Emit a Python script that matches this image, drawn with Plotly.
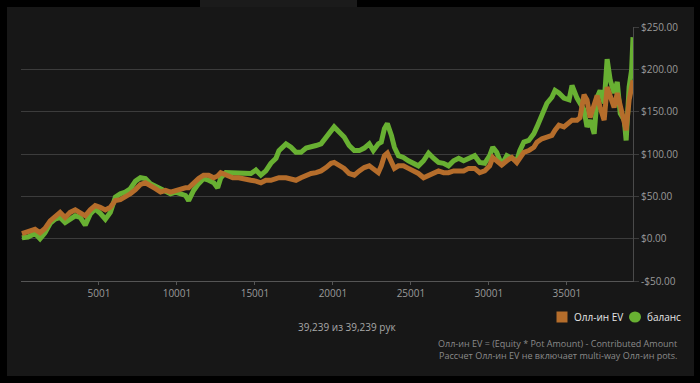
import plotly.graph_objects as go

# Hand numbers (x) and series values ($)
hands = [60, 450, 900, 1220, 1540, 1870, 2190, 2510, 2830, 3150, 3480, 3800, 4120, 4440, 4760,
         5080, 5410, 5730, 6050, 6370, 6690, 7010, 7340, 7660, 7980, 8300, 8620, 8950, 9270,
         9590, 9910, 10230, 10550, 10750, 11070, 11390, 11710, 12030, 12360, 12610, 12810,
         13130, 13580, 13960, 14420, 14740, 15060, 15380, 15700, 16020, 16350, 16540, 16990,
         17310, 17630, 17950, 18280, 18600, 18920, 19240, 19560, 19880, 20080, 20400, 20720,
         21040, 21370, 21690, 22010, 22330, 22590, 22910, 23100, 23300, 23490, 23750, 23940,
         24200, 24520, 24840, 25160, 25480, 25810, 26130, 26450, 26770, 27090, 27410, 27740,
         28060, 28380, 28700, 29090, 29410, 29730, 30050, 30250, 30500, 30820, 31150, 31470,
         31790, 31980, 32240, 32560, 32880, 33080, 33400, 33720, 34040, 34240, 34490, 34810,
         35140, 35330, 35650, 35840, 36100, 36290, 36490, 36750, 36940, 37130, 37390, 37580,
         37780, 38030, 38230, 38420, 38680, 38800, 38990, 39150, 39239]

allin_ev = [6, 8, 11, 7, 12, 21, 27, 31, 25, 31, 34, 31, 27, 34, 39,
            37, 34, 37, 45, 46, 49, 53, 58, 64, 66, 63, 59, 55, 57,
            55, 57, 59, 60, 60, 66, 71, 75, 75, 72, 74, 78,
            75, 72, 72, 71, 69, 68, 66, 69, 69, 71, 72, 72,
            71, 69, 72, 75, 77, 78, 80, 84, 89, 90, 86, 83,
            77, 75, 80, 84, 86, 83, 78, 86, 98, 101, 92, 83,
            86, 86, 83, 80, 77, 72, 75, 78, 80, 78, 78, 80,
            80, 80, 83, 83, 78, 80, 86, 96, 92, 87, 92, 96,
            90, 95, 102, 104, 108, 114, 118, 120, 122, 128, 134, 132,
            136, 140, 140, 143, 170, 164, 143, 160, 169, 155, 140, 179,
            167, 155, 172, 155, 132, 128, 164, 179, 187]

balance = [1, 2, 6, 0, 7, 18, 23, 25, 19, 23, 27, 25, 16, 29, 35,
           30, 23, 31, 49, 53, 55, 59, 68, 72, 71, 65, 62, 59, 55,
           53, 55, 53, 51, 45, 57, 65, 71, 69, 66, 60, 72,
           78, 78, 77, 77, 77, 81, 75, 80, 89, 95, 104, 112,
           108, 102, 102, 107, 108, 110, 112, 120, 128, 132, 126, 120,
           110, 104, 104, 107, 112, 104, 112, 114, 130, 136, 122, 108,
           98, 96, 92, 89, 86, 92, 101, 95, 90, 89, 86, 92,
           95, 92, 95, 98, 90, 89, 98, 108, 102, 87, 98, 95,
           92, 104, 114, 116, 124, 132, 148, 160, 167, 175, 172, 166,
           164, 181, 166, 161, 152, 132, 140, 124, 167, 175, 160, 212,
           187, 172, 185, 148, 140, 116, 179, 199, 238]

x_ticks = [5001, 10001, 15001, 20001, 25001, 30001, 35001]
x_labels = ["5001", "10001", "15001", "20001", "25001", "30001", "35001"]
y_ticks = [-50, 0, 50, 100, 150, 200, 250]
y_labels = ["-$50.00", "$0.00", "$50.00", "$100.00", "$150.00", "$200.00", "$250.00"]

series_names = ["Олл-ин EV", "баланс"]

GREEN = "#68b032"
BROWN = "#b56d2b"

fig = go.Figure()
fig.add_trace(go.Scatter(x=hands, y=balance, mode="lines", name=series_names[1],
                         line=dict(color=GREEN, width=5), showlegend=False))
fig.add_trace(go.Scatter(x=hands, y=allin_ev, mode="lines", name=series_names[0],
                         line=dict(color=BROWN, width=5), showlegend=False))

W, H = 700, 383
L, R, T, B = 21, 67, 27, 102
pw, ph = W - L - R, H - T - B


def px(x):
    return (x - L) / pw


def py(y):
    return (H - B - y) / ph


shapes = [
    dict(type="rect", xref="paper", yref="paper", x0=px(7), x1=px(694), y0=py(376), y1=py(7),
         fillcolor="#171717", line=dict(width=0), layer="below"),
    dict(type="rect", xref="paper", yref="paper", x0=px(200), x1=px(357), y0=py(7), y1=py(0),
         fillcolor="#1b1b1b", line=dict(width=0), layer="below"),
    # legend icons
    dict(type="rect", xref="paper", yref="paper", x0=px(556.5), x1=px(567.5), y0=py(322.5), y1=py(311.5),
         fillcolor=BROWN, line=dict(width=0), layer="above"),
    dict(type="circle", xref="paper", yref="paper", x0=px(629), x1=px(641), y0=py(322.5), y1=py(311.5),
         fillcolor=GREEN, line=dict(width=0), layer="above"),
]

annotations = [
    dict(text=series_names[0], xref="paper", yref="paper", x=px(572), y=py(317),
         xanchor="left", yanchor="middle", showarrow=False,
         font=dict(size=10, color="#e6e6e6")),
    dict(text=series_names[1], xref="paper", yref="paper", x=px(645), y=py(317),
         xanchor="left", yanchor="middle", showarrow=False,
         font=dict(size=10, color="#e6e6e6")),
    dict(text="39,239 из 39,239 рук", xref="paper", yref="paper", x=px(347), y=py(327),
         xanchor="center", yanchor="middle", showarrow=False,
         font=dict(size=10, color="#a8a8a8")),
    dict(text="Олл-ин EV = (Equity * Pot Amount) - Contributed Amount", xref="paper", yref="paper",
         x=px(679), y=py(343), xanchor="right", yanchor="middle", showarrow=False,
         font=dict(size=9, color="#8a8a8a")),
    dict(text="Рассчет Олл-ин EV не включает multi-way Олл-ин pots.", xref="paper", yref="paper",
         x=px(679), y=py(355), xanchor="right", yanchor="middle", showarrow=False,
         font=dict(size=9, color="#8a8a8a")),
]

fig.update_layout(
    width=W, height=H,
    margin=dict(l=L, r=R, t=T, b=B),
    paper_bgcolor="#000000",
    plot_bgcolor="rgba(0,0,0,0)",
    font=dict(family="Open Sans", color="#9a9a9a", size=10),
    showlegend=False,
    xaxis=dict(range=[1, 39239], tickvals=x_ticks, ticktext=x_labels, showgrid=False, zeroline=False,
               showline=True, linecolor="#555555", linewidth=1,
               ticks="outside", ticklen=3, tickcolor="#555555",
               tickfont=dict(size=10, color="#9a9a9a")),
    yaxis=dict(range=[-50, 250], tickvals=y_ticks, ticktext=y_labels, side="right",
               showgrid=True, gridcolor="#3c3c3c", gridwidth=1, zeroline=False,
               showline=True, linecolor="#4a4a4a", linewidth=1,
               ticks="outside", ticklen=5, tickcolor="#3c3c3c",
               tickfont=dict(size=10, color="#9a9a9a")),
    shapes=shapes,
    annotations=annotations,
)

fig.write_html("out.html", config={"displayModeBar": False},
               post_script="document.body.style.margin='0';document.body.style.overflow='hidden';")
